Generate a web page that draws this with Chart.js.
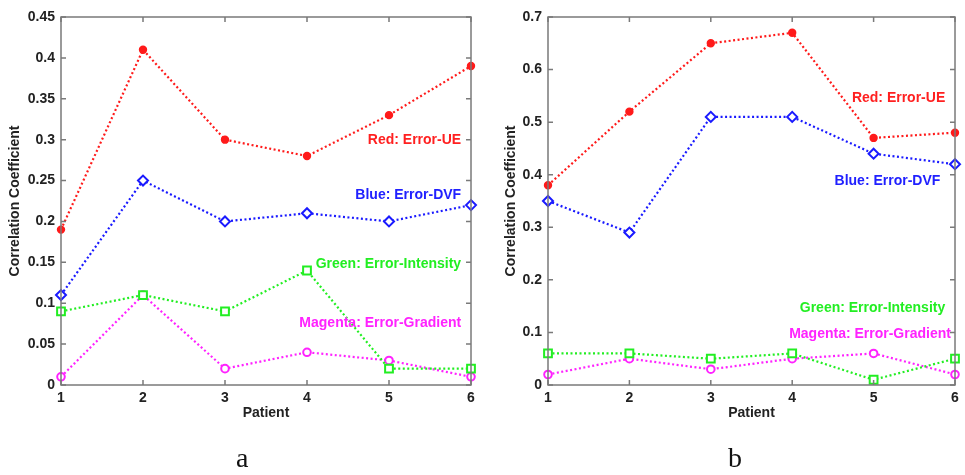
<!DOCTYPE html>
<html>
<head>
<meta charset="utf-8">
<script src="https://cdn.jsdelivr.net/npm/chart.js@4/dist/chart.umd.min.js"></script>
<style>
  html, body { margin: 0; padding: 0; background: #fff; }
  #wrap { position: relative; width: 965px; height: 475px; overflow: hidden; }
  .panel { position: absolute; top: 0; height: 475px; }
  #pa { left: 0; width: 480px; }
  #pb { left: 480px; width: 485px; }
  .cap { position: absolute; font-family: "Liberation Serif", "DejaVu Serif", serif; font-size: 28px; color: #111; line-height: 28px; }
</style>
</head>
<body>
<div id="wrap">
  <div class="panel" id="pa"><canvas id="ca"></canvas></div>
  <div class="panel" id="pb"><canvas id="cb"></canvas></div>
  <div class="cap" style="left:236px; top:444px;">a</div>
  <div class="cap" style="left:728px; top:444px;">b</div>
</div>
<script>
// ---------- data ----------
const patients = [1, 2, 3, 4, 5, 6];

const aRed     = [0.19, 0.41, 0.30, 0.28, 0.33, 0.39];
const aBlue    = [0.11, 0.25, 0.20, 0.21, 0.20, 0.22];
const aGreen   = [0.09, 0.11, 0.09, 0.14, 0.02, 0.02];
const aMagenta = [0.01, 0.11, 0.02, 0.04, 0.03, 0.01];

const bRed     = [0.38, 0.52, 0.65, 0.67, 0.47, 0.48];
const bBlue    = [0.35, 0.29, 0.51, 0.51, 0.44, 0.42];
const bGreen   = [0.06, 0.06, 0.05, 0.06, 0.01, 0.05];
const bMagenta = [0.02, 0.05, 0.03, 0.05, 0.06, 0.02];

const seriesNames = ["Red: Error-UE", "Blue: Error-DVF", "Green: Error-Intensity", "Magenta: Error-Gradient"];
const aLabelY = [0.300, 0.232, 0.148, 0.076];
const bLabelY = [0.546, 0.388, 0.146, 0.097];

const yTitle = "Correlation Coefficient";
const xTitle = "Patient";

// ---------- styles ----------
const COLORS = ["#ff1a1a", "#1a1aff", "#22ee22", "#ff22ff"];
const TEXTCOL = ["#ff2020", "#2020ff", "#22ee22", "#ff22ff"];
const FONT = "'Liberation Sans', Arial, sans-serif";

function mk(values, idx) {
  const styles = [
    { pointStyle: 'circle',  radius: 3.2, bg: COLORS[0] },
    { pointStyle: 'rectRot', radius: 5,   bg: '#fff' },
    { pointStyle: 'rect',    radius: 5.5, bg: '#fff' },
    { pointStyle: 'circle',  radius: 3.8, bg: '#fff' }
  ][idx];
  return {
    label: seriesNames[idx],
    data: patients.map((p, i) => ({ x: p, y: values[i] })),
    borderColor: COLORS[idx],
    borderWidth: 2.2,
    borderDash: [2, 2.5],
    pointStyle: styles.pointStyle,
    pointRadius: styles.radius,
    pointBackgroundColor: styles.bg,
    pointBorderColor: COLORS[idx],
    pointBorderWidth: 2,
    tension: 0,
    fill: false,
    clip: false
  };
}

const boxPlugin = {
  id: 'matlabBox',
  afterDraw(chart) {
    const { ctx, chartArea: a, scales } = chart;
    ctx.save();
    ctx.strokeStyle = '#7a7a7a';
    ctx.lineWidth = 1.5;
    ctx.strokeRect(a.left, a.top, a.right - a.left, a.bottom - a.top);
    const tl = 5;
    ctx.beginPath();
    scales.y.ticks.forEach(t => {
      const y = scales.y.getPixelForValue(t.value);
      ctx.moveTo(a.left, y); ctx.lineTo(a.left + tl, y);
      ctx.moveTo(a.right, y); ctx.lineTo(a.right - tl, y);
    });
    scales.x.ticks.forEach(t => {
      const x = scales.x.getPixelForValue(t.value);
      ctx.moveTo(x, a.bottom); ctx.lineTo(x, a.bottom - tl);
      ctx.moveTo(x, a.top); ctx.lineTo(x, a.top + tl);
    });
    ctx.stroke();
    // series labels
    const opts = chart.options.plugins.matlabBox;
    ctx.font = "bold 14px " + FONT;
    ctx.textAlign = 'right';
    ctx.textBaseline = 'middle';
    opts.labels.forEach((lb, i) => {
      ctx.fillStyle = TEXTCOL[i];
      ctx.fillText(seriesNames[i], scales.x.getPixelForValue(opts.labelX[i]), scales.y.getPixelForValue(lb));
    });
    ctx.restore();
  }
};

function makeChart(id, sets, yMax, labelY, labelX, yAxisWidth, padRight, yTitlePad) {
  return new Chart(document.getElementById(id), {
    type: 'line',
    data: { datasets: sets.map((s, i) => mk(s, i)) },
    plugins: [boxPlugin],
    options: {
      responsive: true,
      maintainAspectRatio: false,
      animation: false,
      layout: { padding: { left: 0, right: padRight, top: 17, bottom: 45 } },
      plugins: {
        legend: { display: false },
        tooltip: { enabled: false },
        matlabBox: { labels: labelY, labelX: labelX }
      },
      scales: {
        x: {
          type: 'linear', min: 1, max: 6,
          grid: { display: false, drawTicks: false },
          border: { display: false },
          ticks: { stepSize: 1, padding: 5, color: '#222', font: { family: FONT, weight: 'bold', size: 14 } },
          title: { display: true, text: xTitle, color: '#222', font: { family: FONT, weight: 'bold', size: 14 }, padding: { top: 0, bottom: 8 } },
          afterFit(scale) { scale.height = 45; }
        },
        y: {
          type: 'linear', min: 0, max: yMax,
          grid: { display: false, drawTicks: false },
          border: { display: false },
          ticks: {
            stepSize: yMax > 0.5 ? 0.1 : 0.05, padding: 6, color: '#222',
            font: { family: FONT, weight: 'bold', size: 14 },
            callback: v => String(+v.toFixed(2))
          },
          title: { display: true, text: yTitle, color: '#222', font: { family: FONT, weight: 'bold', size: 14 }, padding: { top: yTitlePad, bottom: 0 } },
          afterFit(scale) { scale.width = yAxisWidth; }
        }
      }
    }
  });
}

makeChart('ca', [aRed, aBlue, aGreen, aMagenta], 0.45, aLabelY, [5.88, 5.88, 5.88, 5.88], 61, 9, 7);
makeChart('cb', [bRed, bBlue, bGreen, bMagenta], 0.7, bLabelY, [5.88, 5.82, 5.88, 5.95], 68, 10, 23);
</script>
</body>
</html>
